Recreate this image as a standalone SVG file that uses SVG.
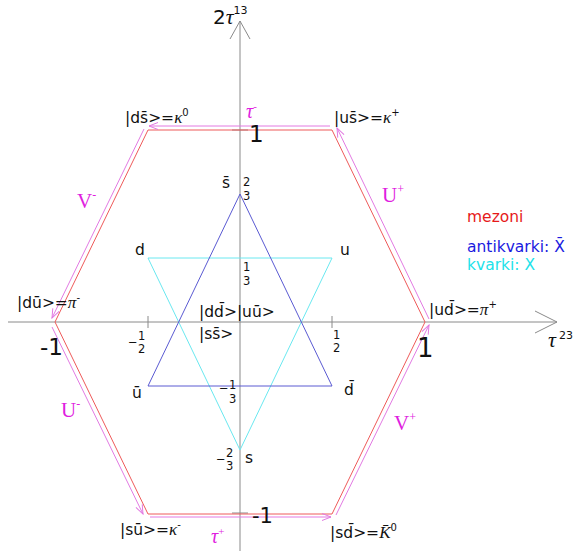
<svg xmlns="http://www.w3.org/2000/svg" width="577" height="551" viewBox="0 0 577 551">
<style>
.ax{stroke:#8a8a8a;stroke-width:1;fill:none}
.hex{stroke:#ee5a5a;stroke-width:1;fill:none}
.tb{stroke:#5a5ad2;stroke-width:1;fill:none}
.tc{stroke:#6ae8f0;stroke-width:1;fill:none}
.ar{stroke:#e27ae2;stroke-width:1;fill:none;marker-end:url(#ah)}
text{font-family:"DejaVu Sans",Verdana,sans-serif;fill:#111}
.lb{font-size:15.5px}
.fr{font-size:11.5px}
.big{font-size:23px}
.gr{font-family:"Liberation Serif","Times New Roman",serif;font-style:italic}
.mg{font-family:"Liberation Serif","Times New Roman",serif;fill:#e01ee0}
.sup{font-size:10px}
</style>
<defs>
<marker id="ah" viewBox="-10 -5 11 10" refX="0" refY="0" markerWidth="11" markerHeight="10" markerUnits="userSpaceOnUse" orient="auto">
<path d="M-9,-3.5 L0,0 L-9,3.5" fill="none" stroke="#e27ae2" stroke-width="1"/>
</marker>
</defs>
<rect width="577" height="551" fill="#fff"/>
<g id="axes">
<path class="ax" d="M240,21 L240,551"/>
<path class="ax" d="M230,39 L240,21 L250,39"/>
<path class="ax" d="M8,322 L557,322"/>
<path class="ax" d="M535,311 L557,322 L535,333"/>
<path class="ax" d="M232,130 L248,130 M232,513 L248,513 M148,316 L148,328 M332,316 L332,328"/>
</g>
<g id="hexagon">
<path class="hex" d="M148,130 L332,130 L425,322 L332,514 L148,514 L55,322 Z"/>
</g>
<g id="kvarki-triangle">
<path class="tc" d="M148,258 L332,258 L240,450 Z"/>
</g>
<g id="antikvarki-triangle">
<path class="tb" d="M240,194 L332,386 L148,386 Z"/>
</g>
<g id="connectors">
<path class="ar" d="M330,126 L149,126"/>
<path class="ar" d="M144,129 L52,318"/>
<path class="ar" d="M52,327 L143,514"/>
<path class="ar" d="M150,517 L331,517"/>
<path class="ar" d="M336,515 L429,325"/>
<path class="ar" d="M429,319 L337,128"/>
</g>
<g id="axis-labels">
<text x="213" y="24" font-size="20">2<tspan class="gr" font-size="22">τ</tspan><tspan font-size="11" dy="-10">13</tspan></text>
<text x="548" y="347" class="gr" font-size="22">τ</text>
<text x="559" y="339" font-size="11">23</text>
</g>
<g id="mesons">
<text x="125" y="123" class="lb">|ds&#x304;&gt;=<tspan class="gr" font-size="17">κ</tspan><tspan class="sup" dy="-7">0</tspan></text>
<text x="334" y="123" class="lb">|us&#x304;&gt;=<tspan class="gr" font-size="17">κ</tspan><tspan class="sup" dy="-7">+</tspan></text>
<text x="17" y="308" class="lb">|du&#x304;&gt;=<tspan class="gr" font-size="17">π</tspan><tspan class="sup" dy="-7">-</tspan></text>
<text x="429" y="315" class="lb">|ud&#x304;&gt;=<tspan class="gr" font-size="17">π</tspan><tspan class="sup" dy="-7">+</tspan></text>
<text x="120" y="535" class="lb">|su&#x304;&gt;=<tspan class="gr" font-size="17">κ</tspan><tspan class="sup" dy="-7">-</tspan></text>
<text x="330" y="538" class="lb">|sd&#x304;&gt;=<tspan class="gr" font-size="17">K&#x304;</tspan><tspan class="sup" dy="-7">0</tspan></text>
<text x="199" y="317" class="lb">|dd&#x304;&gt;|uu&#x304;&gt;</text>
<text x="199" y="339" class="lb">|ss&#x304;&gt;</text>
</g>
<g id="quarks">
<text x="222" y="188" class="lb">s&#x304;</text>
<text x="135" y="255" class="lb">d</text>
<text x="340" y="255" class="lb">u</text>
<text x="132" y="398" class="lb">u&#x304;</text>
<text x="344" y="395" class="lb">d&#x304;</text>
<text x="245" y="463" class="lb">s</text>
</g>
<g id="fractions">
<text x="243" y="186" class="fr">2</text><text x="243" y="200" class="fr">3</text>
<text x="243" y="271" class="fr">1</text><text x="243" y="285" class="fr">3</text>
<text x="128" y="346" class="fr">−</text><text x="138" y="340" class="fr">1</text><text x="138" y="353" class="fr">2</text>
<text x="333" y="339" class="fr">1</text><text x="333" y="352" class="fr">2</text>
<text x="219" y="392" class="fr">−</text><text x="229" y="389" class="fr">1</text><text x="229" y="403" class="fr">3</text>
<text x="216" y="463" class="fr">−</text><text x="226" y="457" class="fr">2</text><text x="226" y="470" class="fr">3</text>
</g>
<g id="units">
<text x="249" y="142" class="big">1</text>
<text x="417" y="357" font-size="26">1</text>
<text x="40" y="355" class="big">-1</text>
<text x="252" y="523" font-size="21">-1</text>
</g>
<g id="operators">
<text x="246" y="118" class="mg" font-size="20"><tspan font-style="italic">τ</tspan><tspan font-size="11" dy="-8">-</tspan></text>
<text x="211" y="543" class="mg" font-size="20"><tspan font-style="italic">τ</tspan><tspan font-size="11" dy="-8">+</tspan></text>
<text x="382" y="202" class="mg" font-size="21">U<tspan font-size="12" dy="-9">+</tspan></text>
<text x="77" y="208" class="mg" font-size="21">V<tspan font-size="12" dy="-9">-</tspan></text>
<text x="61" y="417" class="mg" font-size="21">U<tspan font-size="12" dy="-9">-</tspan></text>
<text x="394" y="430" class="mg" font-size="21">V<tspan font-size="12" dy="-9">+</tspan></text>
</g>
<g id="legend">
<text x="467" y="222" font-size="15.5" style="fill:#e61a1a">mezoni</text>
<text x="467" y="252" font-size="15.5" style="fill:#1a1ae0">antikvarki: X&#x304;</text>
<text x="467" y="270" font-size="15.5" style="fill:#22e2ea">kvarki: X</text>
</g>
</svg>
